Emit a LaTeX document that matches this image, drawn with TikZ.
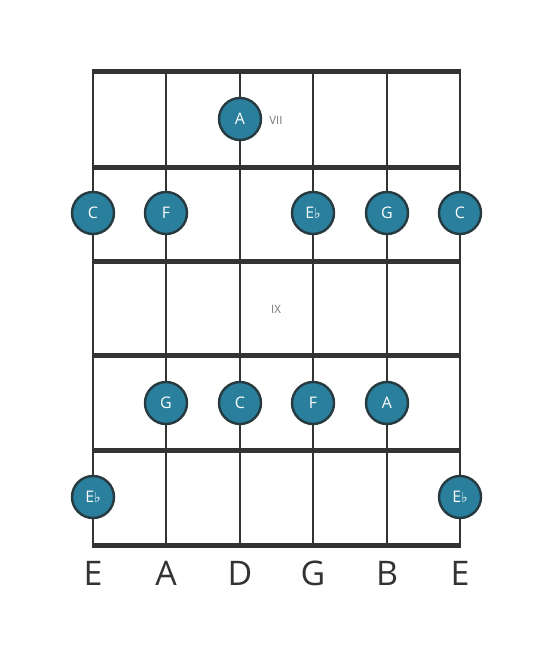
\documentclass[tikz,border=0pt]{standalone}
\usepackage{fontspec}
\setmainfont{Open Sans}
\newfontfamily\symfont{DejaVu Sans}
\definecolor{dotfill}{HTML}{2A7F9C}
\definecolor{dotline}{HTML}{263A40}
\definecolor{gridc}{HTML}{333333}
\definecolor{fretnum}{HTML}{777777}
\newcommand{\flt}{{\symfont\fontsize{14}{14}\selectfont\raisebox{0.5pt}{♭}}}
\begin{document}
\begin{tikzpicture}[x=1bp,y=-1bp,
  stringline/.style={draw=gridc,line width=2.6bp},
  fretline/.style={draw=gridc,line width=5bp},
  notedot/.style={circle,fill=dotfill,draw=dotline,line width=2.4bp,minimum size=42bp,inner sep=0pt,text=white,font=\fontsize{16}{16}\selectfont},
  strname/.style={text=gridc,font=\fontsize{34}{34}\selectfont,inner sep=0pt},
  fretlabel/.style={text=fretnum,font=\fontsize{11.5}{11.5}\selectfont,inner sep=0pt}]
\useasboundingbox (0,0) rectangle (553,656);
\fill[white] (0,0) rectangle (553,656);
% string coordinates
\foreach \i/\x in {1/93,2/166,3/240,4/313,5/387,6/460}{
  \coordinate (st\i) at (\x,72);
  \coordinate (sb\i) at (\x,545);
}
\foreach \i in {1,...,6}{ \draw[stringline] (st\i) -- (sb\i); }
% frets
\foreach \j/\y in {0/72,1/167,2/261,3/355,4/450,5/545}{
  \coordinate (fl\j) at (91.7,\y);
  \coordinate (fr\j) at (461.3,\y);
}
\foreach \j in {0,...,5}{ \draw[fretline] (fl\j) -- (fr\j); }
% notes
\node[notedot] (n1) at (240,119) {A};
\node[notedot] (n2) at (93,213) {C};
\node[notedot] (n3) at (166,213) {F};
\node[notedot] (n4) at (313,213) {E\flt};
\node[notedot] (n5) at (387,213) {G};
\node[notedot] (n6) at (460,213) {C};
\node[notedot] (n7) at (166,403) {G};
\node[notedot] (n8) at (240,403) {C};
\node[notedot] (n9) at (313,403) {F};
\node[notedot] (n10) at (387,403) {A};
\node[notedot] (n11) at (93,497) {E\flt};
\node[notedot] (n12) at (460,497) {E\flt};
% fret numbers
\node[fretlabel] (f7) at (276,120) {VII};
\node[fretlabel] (f9) at (276,309) {IX};
% string names
\node[strname] (s1) at (93,573) {E};
\node[strname] (s2) at (166,573) {A};
\node[strname] (s3) at (240,573) {D};
\node[strname] (s4) at (313,573) {G};
\node[strname] (s5) at (387,573) {B};
\node[strname] (s6) at (460,573) {E};
\end{tikzpicture}
\end{document}
